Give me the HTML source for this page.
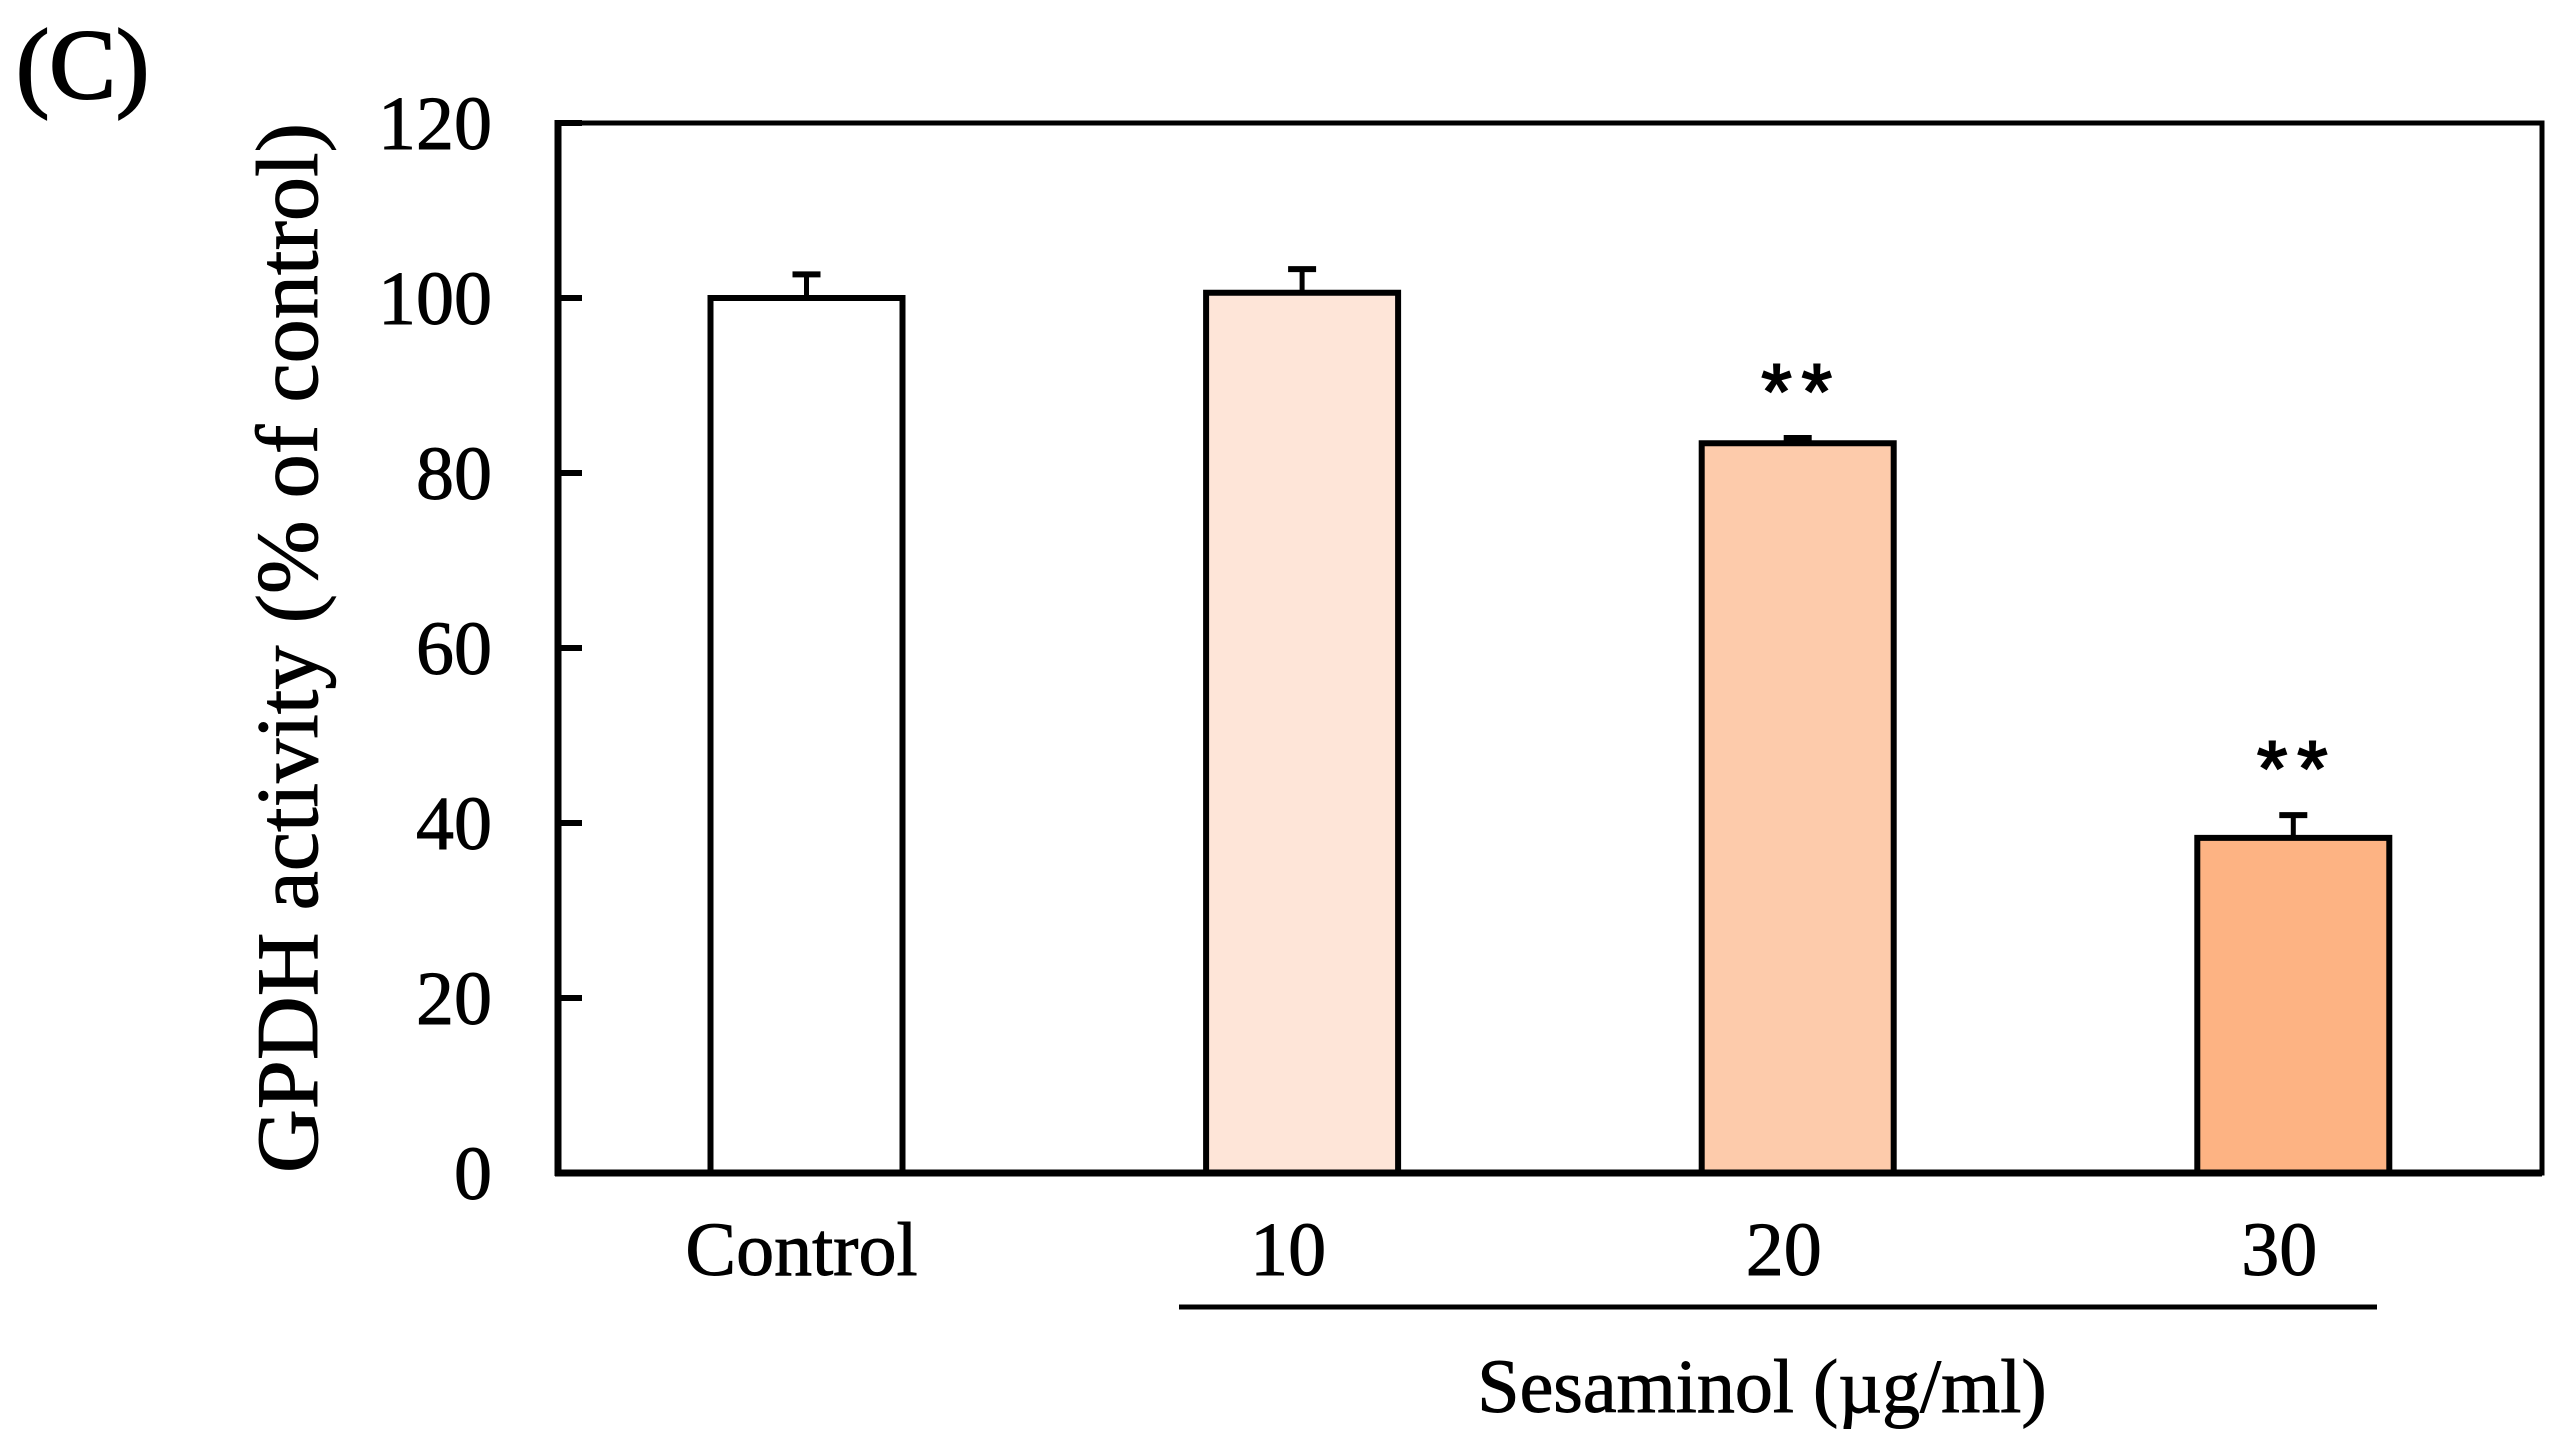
<!DOCTYPE html>
<html><head><meta charset="utf-8"><style>
html,body{margin:0;padding:0;background:#fff;}
svg{display:block;}
text{font-family:"Liberation Serif",serif;fill:#000;stroke:#000;stroke-width:0.9px;}
</style></head><body>
<svg id="chart" width="2576" height="1455" viewBox="0 0 2576 1455" xmlns="http://www.w3.org/2000/svg">
<text x="16" y="98" font-size="100" style="stroke-width:2px">(C)</text>
<text transform="translate(317,648) rotate(-90)" text-anchor="middle" font-size="88" textLength="1050" lengthAdjust="spacingAndGlyphs">GPDH activity (% of control)</text>
<g id="plot"></g>
<line x1="1179" y1="1307" x2="2377" y2="1307" stroke="#000" stroke-width="5"/>
<text x="1762" y="1412" text-anchor="middle" font-size="76">Sesaminol (µg/ml)</text>
</svg>
<script>
const categories = ["Control", "10", "20", "30"];
const values = [100, 100.6, 83.4, 38.3];
const errors = [2.7, 2.7, 0.6, 2.6];
const significance = ["", "", "**", "**"];
const yTicks = [0, 20, 40, 60, 80, 100, 120];
const fills = ["#ffffff", "#fee5d8", "#fdcbab", "#fdb383"];

const NS = "http://www.w3.org/2000/svg";
const plot = document.getElementById("plot");
const X0 = 558, X1 = 2542, Y0 = 1173, YTOP = 123;
const yMax = 120;
function y(v){ return Y0 - (v / yMax) * (Y0 - YTOP); }
const firstC = 806.5, step = 495.6, barW = 192;
function xc(i){ return firstC + i * step; }
function mk(tag, attrs){ const e = document.createElementNS(NS, tag); for (const k in attrs) e.setAttribute(k, attrs[k]); plot.appendChild(e); return e; }

values.forEach((v, i) => {
  const r = mk("rect", {x: xc(i) - barW/2, y: y(v), width: barW, height: Y0 - y(v), fill: fills[i], stroke: "#000", "stroke-width": 6});
  
  
  const top = y(v + errors[i]);
  const el = mk("line", {x1: xc(i), x2: xc(i), y1: y(v), y2: top, stroke: "#000", "stroke-width": 5});
  
  
  const cap = mk("line", {x1: xc(i) - 14, x2: xc(i) + 14, y1: top, y2: top, stroke: "#000", "stroke-width": 6});
  
  
  if (significance[i]) {
    const s = mk("text", {x: xc(i) + 4, y: top - 20, "text-anchor": "middle", "font-size": 78, "letter-spacing": "10"});
    s.style.fontFamily = '"Liberation Sans", sans-serif';
    s.style.strokeWidth = '2px';
    s.textContent = significance[i];
    
    
  }
  const lab = mk("text", {x: xc(i) - (i === 0 ? 5 : 14), y: 1275, "text-anchor": "middle", "font-size": 76});
  lab.textContent = categories[i];
  
  
});

yTicks.forEach(t => {
  const tk = mk("line", {x1: X0, x2: X0 + 24, y1: y(t), y2: y(t), stroke: "#000", "stroke-width": 6});
  
  
  const tl = mk("text", {x: 492, y: y(t) + 26, "text-anchor": "end", "font-size": 76});
  tl.textContent = t;
  
  
});

const frame = mk("rect", {x: X0, y: YTOP, width: X1 - X0, height: Y0 - YTOP, fill: "none", stroke: "#000", "stroke-width": 5});


const left = mk("line", {x1: X0, x2: X0, y1: YTOP - 3, y2: Y0 + 3, stroke: "#000", "stroke-width": 7});


const bottom = mk("line", {x1: X0 - 3, x2: X1, y1: Y0, y2: Y0, stroke: "#000", "stroke-width": 7});


</script>
</body></html>
